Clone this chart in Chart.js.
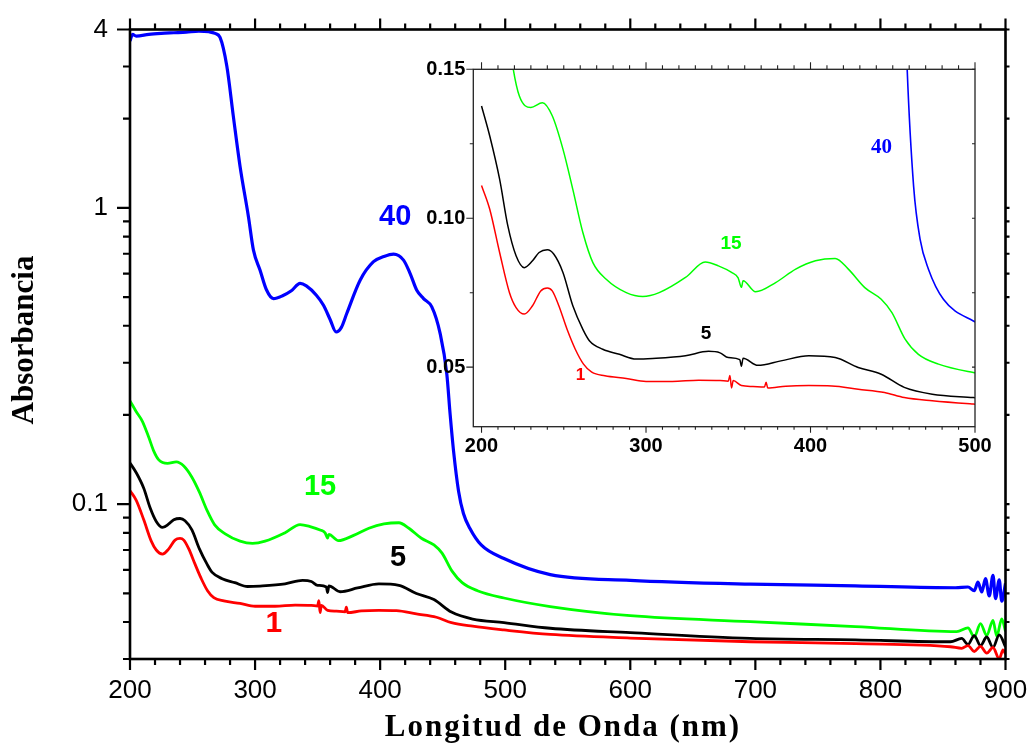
<!DOCTYPE html>
<html>
<head>
<meta charset="utf-8">
<script src="https://cdn.jsdelivr.net/npm/chart.js@4.4.1/dist/chart.umd.min.js"></script>
<style>
  body { margin: 0; background: #fff; }
  #wrap { position: relative; width: 1030px; height: 744px; }
  #mainChart { position: absolute; left: 0; top: 0; }
  #insetChart { position: absolute; left: 400px; top: 50px; }
</style>
</head>
<body>
<div id="wrap">
  <canvas id="mainChart" width="1030" height="744"></canvas>
  <canvas id="insetChart" width="620" height="420"></canvas>
</div>
<script>
// spectra: wavelength (nm) and absorbance for each sample
const wl1 = [200, 205, 211, 217, 221, 226, 231, 236, 240, 243, 247, 252, 257, 262, 267, 275, 288, 300, 316, 332, 345, 350, 351, 352, 353, 358, 365, 372, 373, 374, 385, 399, 413, 429, 445, 457, 474, 499, 536, 600, 696, 780, 856, 865, 870, 875, 880, 885, 890, 895, 898, 900];
const abs1 = [0.111, 0.103, 0.0885, 0.075, 0.070, 0.0678, 0.0706, 0.0756, 0.0766, 0.0756, 0.0706, 0.0627, 0.056, 0.051, 0.0483, 0.0471, 0.0462, 0.0452, 0.0452, 0.0456, 0.0455, 0.0453, 0.0472, 0.0430, 0.0455, 0.0438, 0.0435, 0.0433, 0.0449, 0.0430, 0.0436, 0.0438, 0.0437, 0.0426, 0.0415, 0.0398, 0.0387, 0.0376, 0.0363, 0.0353, 0.0343, 0.0338, 0.0330, 0.0326, 0.0333, 0.0318, 0.0331, 0.0314, 0.0328, 0.0300, 0.0322, 0.0312];

const wl5 = [200, 205, 211, 216, 221, 226, 231, 235, 240, 244, 249.5, 255.5, 261.6, 265.7, 273.7, 283.8, 294, 304, 324, 338, 345, 350, 357, 358, 359, 368, 382, 399, 415, 429, 443, 457, 474, 499, 536, 600, 696, 780, 856, 865, 870, 875, 880, 885, 890, 895, 900];
const abs5 = [0.1377, 0.1276, 0.1131, 0.0974, 0.0874, 0.0834, 0.0857, 0.0885, 0.0894, 0.0879, 0.0818, 0.0706, 0.0627, 0.0588, 0.056, 0.0543, 0.0527, 0.0529, 0.0538, 0.0553, 0.0548, 0.0532, 0.0525, 0.0503, 0.0530, 0.0506, 0.0521, 0.0538, 0.0532, 0.0499, 0.0476, 0.0432, 0.0409, 0.0398, 0.0381, 0.0368, 0.0352, 0.0348, 0.0343, 0.0352, 0.0336, 0.0360, 0.0333, 0.0356, 0.0328, 0.0362, 0.0330];

const wl15 = [200, 205, 210, 215, 219, 223, 230, 237, 243, 249.5, 255.5, 261.6, 267.7, 275.8, 288, 298, 308, 324, 336, 344, 352, 356, 358, 359, 366.6, 378.8, 391, 403, 415, 423, 433, 443, 449.5, 457.5, 465.6, 477.8, 499, 536, 600, 696, 780, 861, 870, 875, 880, 885, 890, 893, 897, 900];
const abs15 = [0.223, 0.205, 0.190, 0.168, 0.151, 0.141, 0.1372, 0.1388, 0.1344, 0.1232, 0.1097, 0.0952, 0.0851, 0.0795, 0.075, 0.0737, 0.075, 0.0801, 0.0853, 0.084, 0.0818, 0.0800, 0.0768, 0.0790, 0.0753, 0.0784, 0.0829, 0.0857, 0.0865, 0.0829, 0.0767, 0.0728, 0.0683, 0.0594, 0.0543, 0.0510, 0.0482, 0.0451, 0.0420, 0.0401, 0.0386, 0.0371, 0.0382, 0.0356, 0.0395, 0.0360, 0.0405, 0.0358, 0.0410, 0.0372];

const wl40 = [200, 202, 205, 215, 225, 235, 245, 255, 263, 268, 272, 277.4, 282.6, 288, 294.7, 298.7, 304, 309, 314.7, 322, 329, 336, 341, 349, 354.7, 360, 364.8, 369, 373.3, 384, 394.7, 403, 410.7, 418.7, 424, 429.3, 434.7, 441.3, 448, 453.3, 456, 458.7, 462.7, 466.6, 471.7, 480.8, 499, 536, 600, 696, 780, 860, 870, 875, 878, 881, 884, 887, 890, 892, 895, 897, 900];
const abs40 = [3.66, 3.85, 3.80, 3.85, 3.88, 3.90, 3.92, 3.95, 3.93, 3.88, 3.76, 3.01, 2.04, 1.38, 0.934, 0.72, 0.616, 0.53, 0.494, 0.505, 0.525, 0.556, 0.545, 0.507, 0.469, 0.42, 0.381, 0.395, 0.44, 0.57, 0.658, 0.685, 0.698, 0.666, 0.60, 0.527, 0.494, 0.463, 0.376, 0.275, 0.20, 0.151, 0.1106, 0.093, 0.0829, 0.0728, 0.0655, 0.0578, 0.0553, 0.0537, 0.0530, 0.0522, 0.0525, 0.0510, 0.0545, 0.0505, 0.0560, 0.0490, 0.0575, 0.0480, 0.0555, 0.0470, 0.0540];

// axis ticks
const xTicksMain = [200, 300, 400, 500, 600, 700, 800, 900];
const yTicksMain = [0.1, 1, 4];
const yMinorMain = [0.03, 0.04, 0.05, 0.06, 0.07, 0.08, 0.09, 0.2, 0.3, 0.4, 0.5, 0.6, 0.7, 0.8, 0.9, 2, 3];
const xTicksInset = [200, 300, 400, 500];
const yTicksInset = [0.05, 0.10, 0.15];
const yMinorInset = [0.075, 0.125];

const xMinorMain = [];
for (let v = 220; v < 900; v += 20) if (v % 100) xMinorMain.push(v);
const xMinorInset = [];
for (let v = 210; v < 500; v += 10) if (v % 100) xMinorInset.push(v);

const BLUE = '#0000ff', GREEN = '#00ff00', BLACK = '#000000', RED = '#ff0000';
const SANS = "'Liberation Sans', Arial, sans-serif";
const SERIF = "'Liberation Serif', 'Times New Roman', serif";

function series(wl, abs, color, width) {
    return {
        data: wl.map((x, i) => ({ x: x, y: abs[i] })),
        borderColor: color,
        borderWidth: width,
        pointRadius: 0,
        cubicInterpolationMode: 'monotone',
        fill: false
    };
}

// keep the plot box where the padding puts it, labels may overhang
function noOverhang(s) {
    s.paddingLeft = 0; s.paddingRight = 0;
    s.paddingTop = 0; s.paddingBottom = 0;
}

// frame, tick marks, curve labels and axis titles
const frameTicks = {
    id: 'frameTicks',
    afterDatasetsDraw(chart, args, opts) {
        const { ctx, chartArea: a, scales: { x, y } } = chart;
        ctx.save();
        ctx.strokeStyle = opts.color;
        ctx.lineWidth = opts.tickWidth;
        ctx.beginPath();
        opts.marks.forEach(m => {
            m.values.forEach(v => {
                if (m.axis === 'x') {
                    const px = x.getPixelForValue(v);
                    ctx.moveTo(px, a.bottom); ctx.lineTo(px, a.bottom + m.bottom);
                    ctx.moveTo(px, a.top); ctx.lineTo(px, a.top - m.top);
                } else {
                    const py = y.getPixelForValue(v);
                    ctx.moveTo(a.left, py); ctx.lineTo(a.left - m.left, py);
                    ctx.moveTo(a.right, py); ctx.lineTo(a.right + m.right, py);
                }
            });
        });
        ctx.stroke();
        ctx.lineWidth = opts.frameWidth;
        ctx.strokeRect(a.left, a.top, a.right - a.left, a.bottom - a.top);

        ctx.textAlign = 'center';
        ctx.textBaseline = 'middle';
        opts.notes.forEach(n => {
            ctx.fillStyle = n.color;
            ctx.font = n.font;
            ctx.fillText(n.text, x.getPixelForValue(n.x), y.getPixelForValue(n.y));
        });

        (opts.titles || []).forEach(t => {
            ctx.save();
            ctx.fillStyle = '#000';
            ctx.font = t.font;
            ctx.letterSpacing = t.spacing || '0px';
            ctx.translate(t.x, t.y);
            if (t.rotate) ctx.rotate(t.rotate);
            ctx.fillText(t.text, 0, 0);
            ctx.restore();
        });
        ctx.restore();
    }
};

new Chart(document.getElementById('mainChart'), {
    type: 'line',
    data: {
        datasets: [
            series(wl1, abs1, RED, 2.8),
            series(wl5, abs5, BLACK, 2.8),
            series(wl15, abs15, GREEN, 2.8),
            series(wl40, abs40, BLUE, 3.2)
        ]
    },
    options: {
        responsive: false,
        animation: false,
        layout: { padding: { left: 0, top: 29.5, right: 24.5, bottom: 0 } },
        plugins: {
            legend: { display: false },
            tooltip: { enabled: false },
            frameTicks: {
                color: '#000',
                frameWidth: 2.6,
                tickWidth: 2.2,
                marks: [
                    { axis: 'x', values: xTicksMain, bottom: 11, top: 11 },
                    { axis: 'x', values: xMinorMain, bottom: 6, top: 6 },
                    { axis: 'y', values: yTicksMain, left: 13, right: 4 },
                    { axis: 'y', values: yMinorMain, left: 7, right: 4 }
                ],
                notes: [
                    { text: '40', x: 412, y: 0.932, color: BLUE, font: 'bold 29px ' + SANS },
                    { text: '15', x: 352, y: 0.114, color: GREEN, font: 'bold 29px ' + SANS },
                    { text: '5', x: 414.4, y: 0.0656, color: BLACK, font: 'bold 29px ' + SANS },
                    { text: '1', x: 315, y: 0.0395, color: RED, font: 'bold 30px ' + SANS }
                ],
                titles: [
                    { text: 'Longitud de Onda (nm)', x: 563, y: 728, font: 'bold 31px ' + SERIF, spacing: '2px' },
                    { text: 'Absorbancia', x: 25, y: 340, rotate: -Math.PI / 2, font: 'bold 31px ' + SERIF }
                ]
            }
        },
        scales: {
            x: {
                type: 'linear',
                min: 200,
                max: 900,
                afterBuildTicks: s => { s.ticks = xTicksMain.map(v => ({ value: v })); },
                afterFit: s => { s.height = 85; noOverhang(s); },
                grid: { display: false, drawTicks: false },
                border: { display: false },
                ticks: { color: '#000', font: { family: SANS, size: 26 }, padding: 16, maxRotation: 0, autoSkip: false }
            },
            y: {
                type: 'logarithmic',
                min: 0.03,
                max: 4,
                afterBuildTicks: s => { s.ticks = yTicksMain.map(v => ({ value: v })); },
                afterFit: s => { s.width = 130; noOverhang(s); },
                grid: { display: false, drawTicks: false },
                border: { display: false },
                ticks: { color: '#000', font: { family: SANS, size: 26 }, padding: 22, autoSkip: false, callback: v => String(v) }
            }
        }
    },
    plugins: [frameTicks]
});

new Chart(document.getElementById('insetChart'), {
    type: 'line',
    data: {
        datasets: [
            series(wl1, abs1, RED, 1.5),
            series(wl5, abs5, BLACK, 1.5),
            series(wl15, abs15, GREEN, 1.5),
            series(wl40, abs40, BLUE, 1.6)
        ]
    },
    options: {
        responsive: false,
        animation: false,
        layout: { padding: { left: 0, top: 19.3, right: 45, bottom: 0 } },
        plugins: {
            legend: { display: false },
            tooltip: { enabled: false },
            frameTicks: {
                color: '#222',
                frameWidth: 1.3,
                tickWidth: 1.1,
                marks: [
                    { axis: 'x', values: xTicksInset, bottom: 6, top: 7 },
                    { axis: 'x', values: xMinorInset, bottom: 3, top: 4 },
                    { axis: 'y', values: yTicksInset, left: 7, right: -3 },
                    { axis: 'y', values: yMinorInset, left: 3.5, right: -3 }
                ],
                notes: [
                    { text: '40', x: 443.2, y: 0.1238, color: BLUE, font: 'bold 21px ' + SERIF },
                    { text: '15', x: 351.7, y: 0.0913, color: GREEN, font: 'bold 19px ' + SANS },
                    { text: '5', x: 336.5, y: 0.0611, color: BLACK, font: 'bold 19px ' + SANS },
                    { text: '1', x: 260.2, y: 0.0473, color: RED, font: 'bold 17px ' + SANS }
                ]
            }
        },
        scales: {
            x: {
                type: 'linear',
                min: 195,
                max: 500,
                afterBuildTicks: s => { s.ticks = xTicksInset.map(v => ({ value: v })); },
                afterFit: s => { s.height = 43.3; noOverhang(s); },
                grid: { display: false, drawTicks: false },
                border: { display: false },
                ticks: { color: '#000', font: { family: SANS, size: 20, weight: 'bold' }, padding: 8, maxRotation: 0, autoSkip: false }
            },
            y: {
                type: 'linear',
                min: 0.03,
                max: 0.15,
                afterBuildTicks: s => { s.ticks = yTicksInset.map(v => ({ value: v })); },
                afterFit: s => { s.width = 73.3; noOverhang(s); },
                grid: { display: false, drawTicks: false },
                border: { display: false },
                ticks: { color: '#000', font: { family: SANS, size: 20, weight: 'bold' }, padding: 8, autoSkip: false, callback: v => v.toFixed(2) }
            }
        }
    },
    plugins: [frameTicks]
});
</script>
</body>
</html>
